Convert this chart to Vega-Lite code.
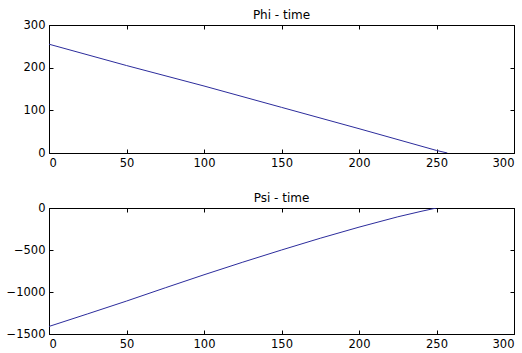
{
  "$schema": "https://vega.github.io/schema/vega-lite/v6.json",
  "background": "white",
  "autosize": {"type": "pad"},
  "padding": {"left": 5, "top": 8, "right": 0, "bottom": 0},
  "bounds": "flush",
  "spacing": 55,
  "config": {
    "font": "DejaVu Sans",
    "view": {"stroke": "black", "strokeWidth": 1},
    "axis": {
      "grid": false,
      "domainColor": "black",
      "tickColor": "black",
      "tickSize": -4,
      "labelFont": "DejaVu Sans",
      "labelFontSize": 11.5,
      "labelColor": "black",
      "title": null,
      "labelPadding": 8,
      "format": "d"
    },
    "title": {"font": "DejaVu Sans", "fontSize": 12, "fontWeight": "normal", "color": "black", "offset": -3}
  },
  "datasets": {
    "phi": [
      {"time": 0, "value": 255},
      {"time": 50, "value": 205},
      {"time": 100, "value": 157},
      {"time": 150, "value": 107},
      {"time": 200, "value": 57},
      {"time": 250, "value": 6},
      {"time": 257, "value": 0}
    ],
    "psi": [
      {"time": 0, "value": -1410},
      {"time": 25, "value": -1260},
      {"time": 50, "value": -1108},
      {"time": 75, "value": -950},
      {"time": 100, "value": -795},
      {"time": 125, "value": -645},
      {"time": 150, "value": -500},
      {"time": 175, "value": -360},
      {"time": 200, "value": -228},
      {"time": 225, "value": -105},
      {"time": 240, "value": -40},
      {"time": 250, "value": 0}
    ]
  },
  "vconcat": [
    {
      "title": "Phi - time",
      "width": 465,
      "height": 128,
      "data": {"name": "phi"},
      "resolve": {"axis": {"x": "independent", "y": "independent"}},
      "layer": [
        {
          "mark": {"type": "line", "color": "#2c2c9c", "strokeWidth": 1, "clip": true},
          "encoding": {
            "x": {"field": "time", "type": "quantitative", "scale": {"domain": [0, 300], "nice": false, "zero": false}, "axis": {"orient": "bottom", "values": [0, 50, 100, 150, 200, 250, 300]}},
            "y": {"field": "value", "type": "quantitative", "scale": {"domain": [0, 300], "nice": false, "zero": false}, "axis": {"orient": "left", "values": [0, 100, 200, 300]}}
          }
        },
        {
          "mark": {"type": "line", "color": "#2c2c9c", "strokeWidth": 1, "opacity": 0, "clip": true},
          "encoding": {
            "x": {"field": "time", "type": "quantitative", "scale": {"domain": [0, 300], "nice": false, "zero": false}, "axis": {"orient": "top", "labels": false, "values": [0, 50, 100, 150, 200, 250, 300]}},
            "y": {"field": "value", "type": "quantitative", "scale": {"domain": [0, 300], "nice": false, "zero": false}, "axis": {"orient": "right", "labels": false, "values": [0, 100, 200, 300]}}
          }
        }
      ]
    },
    {
      "title": "Psi - time",
      "width": 465,
      "height": 126,
      "data": {"name": "psi"},
      "resolve": {"axis": {"x": "independent", "y": "independent"}},
      "layer": [
        {
          "mark": {"type": "line", "color": "#2c2c9c", "strokeWidth": 1, "clip": true},
          "encoding": {
            "x": {"field": "time", "type": "quantitative", "scale": {"domain": [0, 300], "nice": false, "zero": false}, "axis": {"orient": "bottom", "values": [0, 50, 100, 150, 200, 250, 300]}},
            "y": {"field": "value", "type": "quantitative", "scale": {"domain": [-1500, 0], "nice": false, "zero": false}, "axis": {"orient": "left", "values": [-1500, -1000, -500, 0]}}
          }
        },
        {
          "mark": {"type": "line", "color": "#2c2c9c", "strokeWidth": 1, "opacity": 0, "clip": true},
          "encoding": {
            "x": {"field": "time", "type": "quantitative", "scale": {"domain": [0, 300], "nice": false, "zero": false}, "axis": {"orient": "top", "labels": false, "values": [0, 50, 100, 150, 200, 250, 300]}},
            "y": {"field": "value", "type": "quantitative", "scale": {"domain": [-1500, 0], "nice": false, "zero": false}, "axis": {"orient": "right", "labels": false, "values": [-1500, -1000, -500, 0]}}
          }
        }
      ]
    }
  ]
}
